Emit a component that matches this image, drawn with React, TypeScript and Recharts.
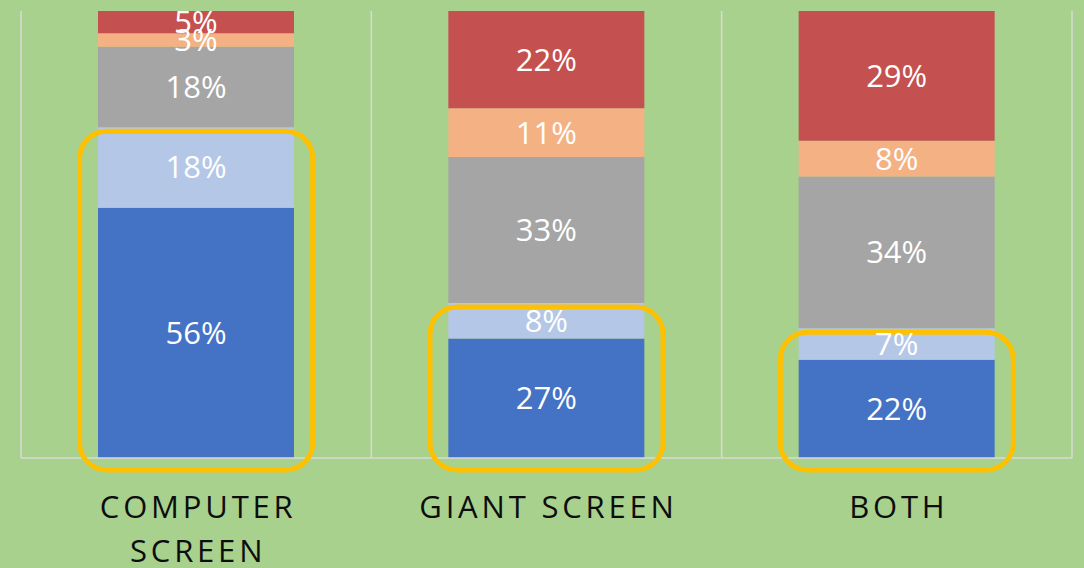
import React from "react";
import { BarChart, Bar, XAxis, YAxis, CartesianGrid, LabelList, ReferenceArea } from "recharts";

const categories = ["COMPUTER SCREEN", "GIANT SCREEN", "BOTH"];
const categoryLines: Record<string, string[]> = {
  "COMPUTER SCREEN": ["COMPUTER", "SCREEN"],
  "GIANT SCREEN": ["GIANT SCREEN"],
  BOTH: ["BOTH"],
};
const seriesA = [56, 27, 22];
const seriesB = [18, 8, 7];
const seriesC = [18, 33, 34];
const seriesD = [3, 11, 8];
const seriesE = [5, 22, 29];

const data = categories.map((c, i) => ({
  category: c,
  a: seriesA[i],
  b: seriesB[i],
  c: seriesC[i],
  d: seriesD[i],
  e: seriesE[i],
}));

const highlights = data.map((r) => ({
  category: r.category,
  top: (r.a + r.b) / (r.a + r.b + r.c + r.d + r.e),
}));

const FONT = "'Open Sans', 'Noto Sans', sans-serif";
const BOX_W = 233;

const HighlightBox = (props: any) => {
  const { x, y, width, height } = props;
  const cx = x + width / 2;
  const top = y + 4;
  const bottom = y + height + 12;
  return (
    <rect
      x={cx - BOX_W / 2}
      y={top}
      width={BOX_W}
      height={bottom - top}
      rx={27}
      ry={27}
      fill="none"
      stroke="#FFC000"
      strokeWidth={5}
    />
  );
};

const CategoryTick = (props: any) => {
  const { x, y, payload } = props;
  const lines = categoryLines[payload.value] || [payload.value];
  return (
    <text
      x={x}
      y={y}
      textAnchor="middle"
      fill="#0d0d0d"
      fontFamily={FONT}
      fontSize={31}
      letterSpacing={3.8}
    >
      {lines.map((l, i) => (
        <tspan key={i} x={x + 2} y={y + 60 + i * 44}>
          {l}
        </tspan>
      ))}
    </text>
  );
};

const labelProps = {
  position: "center" as const,
  fill: "#ffffff",
  fontSize: 31,
  fontFamily: FONT,
  formatter: (v: any) => `${v}%`,
};

export default function App() {
  return (
    <div
      style={{
        position: "absolute",
        left: 0,
        top: 0,
        width: 1084,
        height: 568,
        background: "#A9D18E",
        overflow: "hidden",
      }}
    >
      <BarChart
        width={1084}
        height={568}
        data={data}
        stackOffset="expand"
        margin={{ top: 11, right: 12, bottom: 0, left: 21 }}
      >
        <CartesianGrid
          horizontal={false}
          vertical
          stroke="#D9D9D9"
          strokeWidth={1.5}
          verticalCoordinatesGenerator={({ offset }: any) =>
            [0, 1, 2, 3].map((i) => offset.left + (i * offset.width) / 3)
          }
        />
        <XAxis
          dataKey="category"
          height={110}
          axisLine={{ stroke: "#D9D9D9", strokeWidth: 1.5 }}
          tickLine={false}
          tickSize={0}
          tickMargin={0}
          interval={0}
          tick={<CategoryTick />}
        />
        <YAxis hide domain={[0, 1]} />
        <Bar dataKey="a" stackId="s" fill="#4472C4" barSize={196} isAnimationActive={false}>
          <LabelList dataKey="a" {...labelProps} />
        </Bar>
        <Bar dataKey="b" stackId="s" fill="#B4C7E7" barSize={196} isAnimationActive={false}>
          <LabelList dataKey="b" {...labelProps} />
        </Bar>
        <Bar dataKey="c" stackId="s" fill="#A5A5A5" barSize={196} isAnimationActive={false}>
          <LabelList dataKey="c" {...labelProps} />
        </Bar>
        <Bar dataKey="d" stackId="s" fill="#F4B183" barSize={196} isAnimationActive={false}>
          <LabelList dataKey="d" {...labelProps} />
        </Bar>
        <Bar dataKey="e" stackId="s" fill="#C55050" barSize={196} isAnimationActive={false}>
          <LabelList dataKey="e" {...labelProps} />
        </Bar>
        {highlights.map((h) => (
          <ReferenceArea
            key={h.category}
            x1={h.category}
            x2={h.category}
            y1={0}
            y2={h.top}
            ifOverflow="visible"
            zIndex={1500}
            shape={(p: any) => <HighlightBox {...p} />}
          />
        ))}
      </BarChart>
    </div>
  );
}
